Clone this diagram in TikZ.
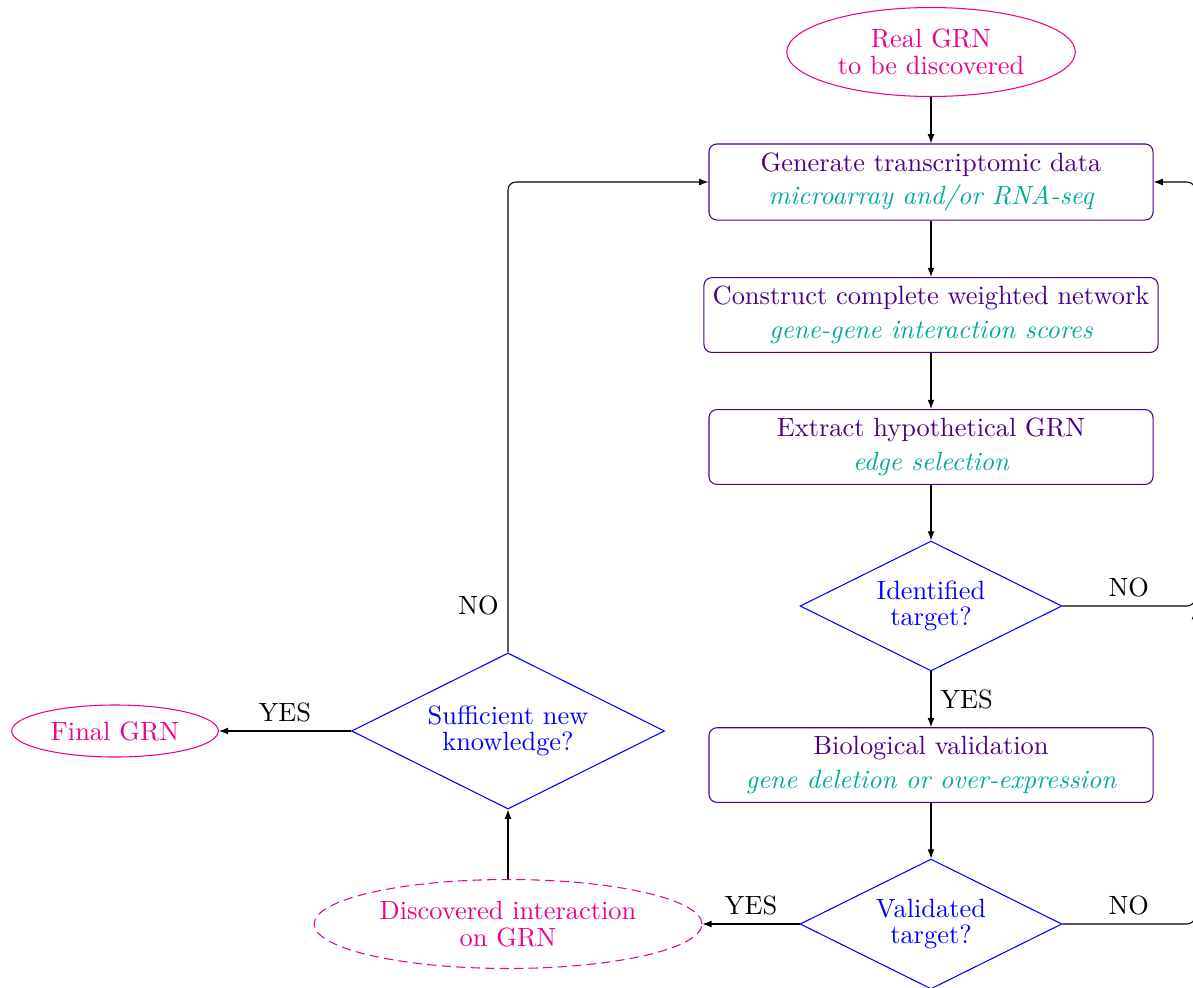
\documentclass[tikz,border=0pt]{standalone}
\usetikzlibrary{shapes.geometric,arrows.meta}
\definecolor{boxpurple}{RGB}{75,0,130}
\definecolor{subteal}{RGB}{0,169,154}
\definecolor{grnpink}{RGB}{236,0,140}
\begin{document}
\begin{tikzpicture}[x=0.3788pt,y=-0.3788pt,
  proc/.style={draw=boxpurple, text=boxpurple, rounded corners=3pt, minimum width=168.2pt, minimum height=28pt, align=center, inner sep=3.33pt},
  dec/.style={diamond, aspect=2, draw=blue, text=blue, align=center, inner sep=0pt},
  term/.style={ellipse, draw=grnpink, text=grnpink, align=center},
  arr/.style={-{Latex[length=3.5pt,width=2.6pt]}},
  dashline/.style={dash pattern=on 3.5pt off 2pt}]
\useasboundingbox (0,0) rectangle (1193,987);
\node[term] (real) at (931,52) {Real GRN\\[-2pt]to be discovered};
\node[proc] (gen) at (931,182) {Generate transcriptomic data\\[0.6pt]{\color{subteal}\itshape microarray and/or RNA-seq}};
\node[proc] (con) at (931,315) {Construct complete weighted network\\[0.6pt]{\color{subteal}\itshape gene-gene interaction scores}};
\node[proc] (ext) at (931,447) {Extract hypothetical GRN\\[0.6pt]{\color{subteal}\itshape edge selection}};
\node[dec, minimum width=99.2pt, minimum height=49.2pt] (ident) at (931,606) {Identified\\[-2pt]target?};
\node[proc] (bio) at (931,765) {Biological validation\\[0.6pt]{\color{subteal}\itshape gene deletion or over-expression}};
\node[dec, minimum width=99.2pt, minimum height=49.2pt] (val) at (931,924) {Validated\\[-2pt]target?};
\node[dec, minimum width=118.6pt, minimum height=59.1pt] (suff) at (508,731) {Sufficient new\\[-2pt]knowledge?};
\node[term] (final) at (115,731) {Final GRN};
\node[term, dashline] (disc) at (508,924) {Discovered interaction\\[-2pt]on GRN};
\coordinate (rtop) at (1195,182);
\coordinate (rend) at (1195,610);
\draw[arr] (real) -- (gen);
\draw[arr] (gen) -- (con);
\draw[arr] (con) -- (ext);
\draw[arr] (ext) -- (ident);
\draw[arr] (ident) -- node[right] {YES} (bio);
\draw[arr] (bio) -- (val);
\draw[arr] (val) -- node[above] {YES} (disc);
\draw[arr] (disc) -- (suff);
\draw[arr] (suff) -- node[above] {YES} (final);
\draw[arr, rounded corners=3pt] (suff.north) -- node[pos=0.1, left] {NO} (suff.north |- gen.west) -- (gen.west);
\draw[arr, rounded corners=3pt] (ident.east) -- node[above] {NO} (ident.east -| rtop) -- (rtop) -- (gen.east);
\draw[arr, rounded corners=3pt] (val.east) -- node[above] {NO} (val.east -| rtop) -- (rend);
\end{tikzpicture}
\end{document}
